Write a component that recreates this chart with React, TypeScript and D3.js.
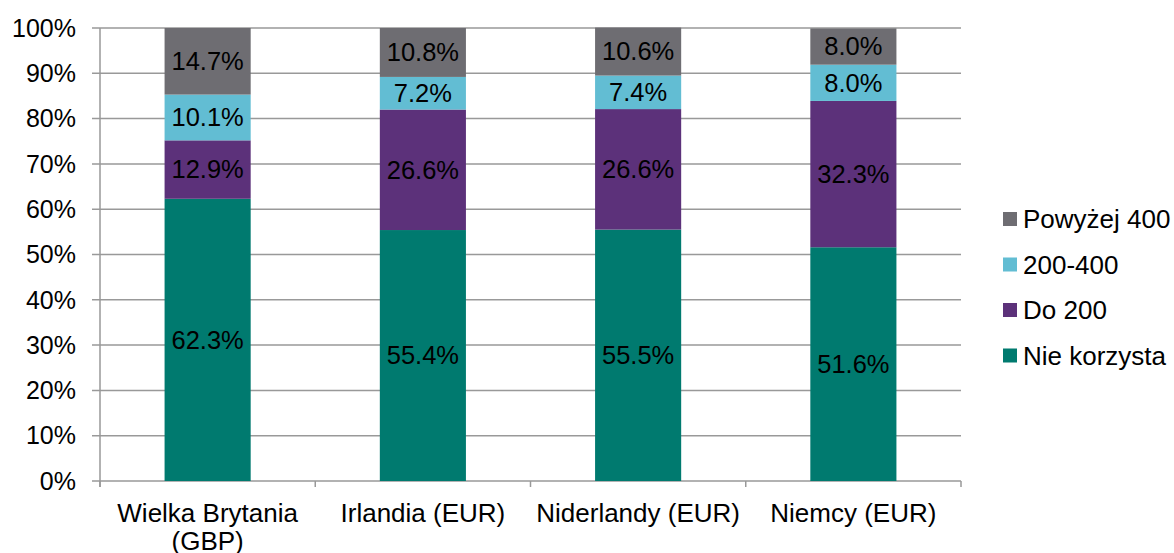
import React from 'react'
import * as d3 from 'd3'

const categories = ['Wielka Brytania (GBP)', 'Irlandia (EUR)', 'Niderlandy (EUR)', 'Niemcy (EUR)']
const seriesNames = ['Nie korzysta', 'Do 200', '200-400', 'Powyżej 400']
const nieKorzysta = [62.3, 55.4, 55.5, 51.6]
const do200 = [12.9, 26.6, 26.6, 32.3]
const od200do400 = [10.1, 7.2, 7.4, 8.0]
const powyzej400 = [14.7, 10.8, 10.6, 8.0]
const yTicks = [0, 10, 20, 30, 40, 50, 60, 70, 80, 90, 100]
const colors = ['#007A6F', '#5C317A', '#62BDD3', '#6E6D72']

const W = 1174
const H = 553
const FONT = 'Liberation Sans, Arial, sans-serif'
const FS = 26

export default function App() {
  const margin = { left: 100, right: 213, top: 28, bottom: 72 }
  const x = d3.scaleBand().domain(categories).range([margin.left, W - margin.right]).paddingInner(0.6).paddingOuter(0.3)
  const y = d3.scaleLinear().domain([0, 100]).range([H - margin.bottom, margin.top])

  const rows = categories.map((c, i) => ({
    cat: c,
    [seriesNames[0]]: nieKorzysta[i],
    [seriesNames[1]]: do200[i],
    [seriesNames[2]]: od200do400[i],
    [seriesNames[3]]: powyzej400[i],
  }))
  const stacked = d3.stack<any>().keys(seriesNames)(rows)

  const x0 = margin.left
  const x1 = W - margin.right
  const y0 = y(0)
  const bandStep = (x1 - x0) / categories.length
  const grid = '#999999'

  const labelLines = (c: string) => {
    if (c === 'Wielka Brytania (GBP)') return ['Wielka Brytania', '(GBP)']
    return [c]
  }

  const legendOrder = [3, 2, 1, 0]

  return (
    <svg width={W} height={H} style={{ position: 'absolute', left: 0, top: 0, background: '#fff' }} fontFamily={FONT}>
      {yTicks.map(t => (
        <g key={t}>
          <line x1={x0 - 8} x2={x1} y1={y(t)} y2={y(t)} stroke={grid} strokeWidth={1.5} />
          <text x={76} y={y(t)} dy="0.35em" textAnchor="end" fontSize={FS - 1} fill="#000">{t}%</text>
        </g>
      ))}
      <line x1={x0} x2={x0} y1={y(100)} y2={y0 + 6} stroke={grid} strokeWidth={1.5} />
      {d3.range(categories.length + 1).map(i => (
        <line key={i} x1={x0 + i * bandStep} x2={x0 + i * bandStep} y1={y0} y2={y0 + 6} stroke={grid} strokeWidth={1.5} />
      ))}
      {stacked.map((s, si) => (
        <g key={s.key} fill={colors[si]}>
          {s.map((d, i) => (
            <g key={i}>
              <rect x={x(categories[i])} y={y(d[1])} width={x.bandwidth()} height={y(d[0]) - y(d[1])} />
              <text x={(x(categories[i]) as number) + x.bandwidth() / 2} y={(y(d[0]) + y(d[1])) / 2} dy="0.35em"
                textAnchor="middle" fontSize={FS - 0.5} fill="#000">{(d[1] - d[0]).toFixed(1)}%</text>
            </g>
          ))}
        </g>
      ))}
      {categories.map(c => (
        <text key={c} x={(x(c) as number) + x.bandwidth() / 2} y={y0 + 41} textAnchor="middle" fontSize={FS} fill="#000">
          {labelLines(c).map((l, li) => (
            <tspan key={li} x={(x(c) as number) + x.bandwidth() / 2} dy={li === 0 ? 0 : 28}>{l}</tspan>
          ))}
        </text>
      ))}
      {legendOrder.map((si, k) => {
        const cy = 219 + k * 45.5
        return (
          <g key={si}>
            <rect x={1003} y={cy - 7} width={14} height={14} fill={colors[si]} />
            <text x={1023} y={cy} dy="0.35em" fontSize={FS} fill="#000">{seriesNames[si]}</text>
          </g>
        )
      })}
    </svg>
  )
}
